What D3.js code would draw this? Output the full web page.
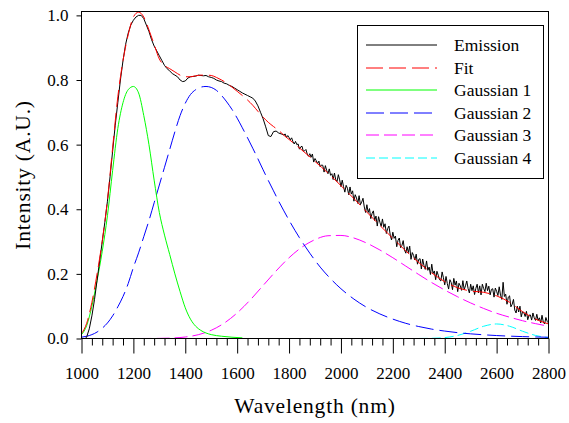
<!DOCTYPE html>
<html><head><meta charset="utf-8">
<script src="https://cdn.jsdelivr.net/npm/d3@7/dist/d3.min.js"></script>
<style>
body{margin:0;background:#fff}
</style>
</head><body>
<svg id="chart" width="569" height="423" font-family="Liberation Serif"></svg>
<script>
// ---------- data ----------
const xMajorTicks = [1000,1200,1400,1600,1800,2000,2200,2400,2600,2800];
const yTicks = [0,0.2,0.4,0.6,0.8,1.0];
const seriesNames = ["Emission","Fit","Gaussian 1","Gaussian 2","Gaussian 3","Gaussian 4"];

// Emission: 1015, 1020..1770 every 10 nm, then 1780..2800 every 5 nm
const emissionNm = [1015].concat(d3.range(1020,1771,10), d3.range(1780,2801,5));
const emissionValue = [0.0,
 0.005,0.03,0.07,0.12,0.18,0.24,0.30,0.36,0.425,0.50,
 0.58,0.66,0.73,0.80,0.86,0.91,0.945,0.97,0.985,0.995,
 1.0,1.0,0.99,0.97,0.95,0.925,0.905,0.89,0.875,0.86,
 0.845,0.835,0.828,0.82,0.815,0.81,0.80,0.795,0.797,0.806,
 0.81,0.811,0.812,0.815,0.814,0.813,0.814,0.81,0.808,0.805,
 0.80,0.797,0.795,0.79,0.788,0.783,0.78,0.775,0.77,0.765,
 0.76,0.756,0.752,0.748,0.744,0.735,0.72,0.70,0.68,0.655,
 0.628,0.625,0.64,0.642,0.636,0.633,
 0.63,
 0.633,0.622,0.628,0.622,0.615,0.621,0.609,0.602,0.610,0.600,
 0.602,0.586,0.593,0.595,0.579,0.581,0.585,0.571,0.564,0.572,
 0.561,0.571,0.546,0.557,0.550,0.541,0.549,0.531,0.537,0.536,
 0.515,0.535,0.520,0.510,0.525,0.505,0.510,0.492,0.512,0.491,
 0.486,0.507,0.491,0.470,0.490,0.470,0.453,0.474,0.465,0.445,
 0.469,0.447,0.457,0.425,0.445,0.435,0.418,0.442,0.414,0.422,
 0.434,0.407,0.390,0.414,0.390,0.402,0.371,0.387,0.395,0.365,
 0.379,0.348,0.377,0.360,0.347,0.370,0.344,0.355,0.325,0.340,
 0.348,0.320,0.305,0.329,0.310,0.317,0.284,0.304,0.311,0.281,
 0.288,0.303,0.274,0.264,0.284,0.266,0.286,0.245,0.266,0.257,
 0.243,0.261,0.230,0.245,0.247,0.215,0.246,0.226,0.214,0.240,
 0.211,0.221,0.198,0.230,0.201,0.209,0.182,0.208,0.196,0.182,
 0.178,0.206,0.188,0.166,0.192,0.170,0.153,0.182,0.173,0.151,
 0.186,0.165,0.178,0.145,0.171,0.163,0.149,0.179,0.151,0.163,
 0.178,0.155,0.141,0.168,0.148,0.163,0.136,0.155,0.168,0.141,
 0.163,0.135,0.168,0.155,0.145,0.171,0.148,0.162,0.135,0.152,
 0.154,0.128,0.156,0.146,0.133,0.160,0.134,0.121,0.174,0.130,
 0.137,0.106,0.128,0.132,0.098,0.106,0.121,0.088,0.079,0.100,
 0.082,0.100,0.067,0.083,0.080,0.068,0.084,0.058,0.072,0.073,
 0.057,0.079,0.064,0.056,0.075,0.056,0.064,0.048,0.072,0.051,
 0.045,0.065,0.053,0.048];

const fitNm = d3.range(1000,1801,20).concat(d3.range(1850,2801,50));
const fitValue = [0.016,0.047,0.112,0.20,0.302,0.428,0.59,0.748,0.86,0.94,
 0.995,1.01,0.995,0.955,0.91,0.865,0.845,0.835,0.825,0.815,
 0.81,0.81,0.813,0.815,0.815,0.814,0.808,0.80,0.79,0.778,
 0.765,0.752,0.738,0.722,0.703,0.685,0.669,0.656,0.644,0.629,0.616,
 0.583,0.548,0.512,0.473,0.433,0.391,0.35,0.31,0.271,0.235,
 0.203,0.176,0.157,0.147,0.143,0.132,0.112,0.083,0.06,0.045];

const g1Nm = d3.range(1000,1501,20).concat([1540,1580,1620]);
const g1Value = [0.012,0.04,0.10,0.18,0.27,0.38,0.52,0.65,0.73,0.77,
 0.78,0.76,0.69,0.60,0.49,0.39,0.32,0.26,0.20,0.145,
 0.095,0.06,0.038,0.025,0.017,0.012,0.007,0.004,0.002];

const g2Nm = d3.range(1000,1801,20).concat([1840,1880,1920,1960], d3.range(2000,2801,50));
const g2Value = [0.004,0.007,0.012,0.02,0.032,0.048,0.07,0.098,0.13,0.17,
 0.22,0.265,0.315,0.365,0.42,0.475,0.53,0.585,0.64,0.69,
 0.728,0.755,0.77,0.778,0.78,0.777,0.768,0.752,0.732,0.709,
 0.682,0.652,0.621,0.589,0.556,0.522,0.489,0.457,0.425,0.395,0.366,
 0.312,0.264,0.221,0.185,
 0.154,0.122,0.096,0.076,0.06,0.047,0.037,0.029,0.023,0.018,
 0.0144,0.0115,0.0091,0.0073,0.0059,0.0048,0.0038];

const g3Nm = [1220,1300,1350].concat(d3.range(1400,2801,50));
const g3Value = [0.0,0.0004,0.0015,0.0046,0.0117,0.0254,0.0476,0.0792,0.119,0.164,
 0.209,0.25,0.283,0.306,0.318,0.319,0.311,0.295,0.274,0.25,
 0.224,0.198,0.173,0.15,0.129,0.11,0.093,0.078,0.066,0.055,0.046,0.038];

const g4Nm = d3.range(2300,2801,50);
const g4Value = [0.0001,0.0006,0.0028,0.0095,0.0225,0.0379,0.045,0.0379,0.0225,0.0095,0.0028];

// ---------- styles ----------
const FONT = "Liberation Serif";
const styles = {
  "Emission":   {color:"#000000", dash:null},
  "Fit":        {color:"#ff0000", dash:"17,6"},
  "Gaussian 1": {color:"#00ff00", dash:null},
  "Gaussian 2": {color:"#0000ff", dash:"18,6"},
  "Gaussian 3": {color:"#ff00ff", dash:"13,5"},
  "Gaussian 4": {color:"#00ffff", dash:"9,4"}
};

const svg = d3.select("#chart");
const L = 81.5, R = 548.5, T = 11.5, B = 338.5;
const x = d3.scaleLinear().domain([1000,2800]).range([L,R]);
const y = d3.scaleLinear().domain([0,1.012]).range([B,T]);

const series = [
  {name:"Gaussian 4", xs:g4Nm, ys:g4Value},
  {name:"Gaussian 3", xs:g3Nm, ys:g3Value},
  {name:"Gaussian 2", xs:g2Nm, ys:g2Value},
  {name:"Gaussian 1", xs:g1Nm, ys:g1Value},
  {name:"Emission", xs:emissionNm, ys:emissionValue},
  {name:"Fit", xs:fitNm, ys:fitValue}
];

svg.append("clipPath").attr("id","plotclip")
  .append("rect").attr("x",L).attr("y",T).attr("width",R-L).attr("height",B-T);

const plot = svg.append("g").attr("clip-path","url(#plotclip)");
series.forEach(s => {
  const pts = s.xs.map((v,i)=>[v, s.ys[i]]);
  const curve = s.name === "Emission" ? d3.curveLinear : d3.curveMonotoneX;
  const line = d3.line().x(d=>x(d[0])).y(d=>y(d[1])).curve(curve);
  const st = styles[s.name];
  plot.append("path").datum(pts)
    .attr("d", line)
    .attr("fill","none")
    .attr("stroke", st.color)
    .attr("stroke-width", 1)
    .attr("stroke-dasharray", st.dash);
});

// frame
svg.append("rect").attr("x",L).attr("y",T).attr("width",R-L).attr("height",B-T)
  .attr("fill","none").attr("stroke","#000").attr("stroke-width",1);

// x axis ticks
const minorTicks = d3.range(1000,2801,40).filter(v => xMajorTicks.indexOf(v) < 0);
const xMinor = svg.append("g").attr("transform",`translate(0,${B})`)
  .call(d3.axisBottom(x).tickValues(minorTicks).tickSize(7).tickFormat(""));
xMinor.select(".domain").remove();
const xMajor = svg.append("g").attr("transform",`translate(0,${B})`)
  .call(d3.axisBottom(x).tickValues(xMajorTicks).tickSize(15).tickPadding(13).tickFormat(d3.format("d")));
xMajor.select(".domain").remove();

const yAxis = svg.append("g").attr("transform",`translate(${L},0)`)
  .call(d3.axisLeft(y).tickValues(yTicks).tickSize(5).tickPadding(8).tickFormat(d3.format(".1f")));
yAxis.select(".domain").remove();

svg.selectAll("g").attr("font-family", FONT);
svg.selectAll(".tick text").attr("font-size",17).attr("font-family",FONT).attr("fill","#000");
svg.selectAll(".tick line").attr("stroke","#000");

// axis titles
svg.append("text").attr("x",(L+R)/2).attr("y",413).attr("text-anchor","middle")
  .attr("font-family",FONT).attr("font-size",21.5).attr("letter-spacing",0.8).text("Wavelength (nm)");
svg.append("text").attr("transform",`translate(30,${(T+B)/2}) rotate(-90)`)
  .attr("text-anchor","middle").attr("font-family",FONT).attr("font-size",21.5).attr("letter-spacing",0.8).text("Intensity (A.U.)");

// legend
const lg = svg.append("g");
lg.append("rect").attr("x",357.5).attr("y",25.5).attr("width",186).attr("height",153)
  .attr("fill","#fff").attr("stroke","#000").attr("stroke-width",1);
seriesNames.forEach((n,i) => {
  const yy = Math.round(45 + i*22.6);
  const st = styles[n];
  lg.append("line").attr("x1",366).attr("x2",437).attr("y1",yy).attr("y2",yy)
    .attr("stroke",st.color).attr("stroke-width",1).attr("stroke-dasharray",st.dash);
  lg.append("text").attr("x",454).attr("y",yy).attr("dy","0.35em")
    .attr("font-family",FONT).attr("font-size",17.5).text(n);
});
</script>
</body></html>
